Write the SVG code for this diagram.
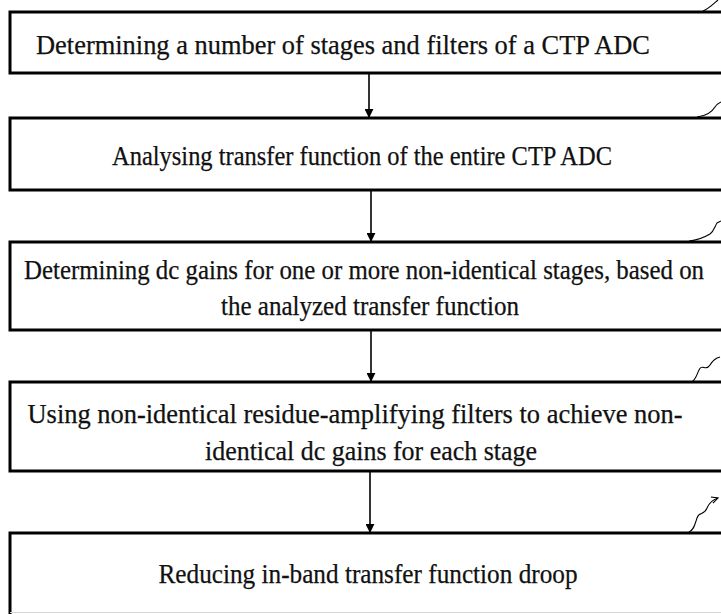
<svg xmlns="http://www.w3.org/2000/svg" width="721" height="614" viewBox="0 0 721 614">
  <style>
    .box { fill: #ffffff; stroke: #000000; stroke-width: 3; }
    .label { font-family: "Liberation Serif", "Times New Roman", serif; font-size: 27px; fill: #111111; text-anchor: middle; stroke: #111111; stroke-width: 0.25; }
    .flow { stroke: #000000; stroke-width: 1.6; fill: none; }
    .leader { stroke: #000000; stroke-width: 1.1; fill: none; }
  </style>
  <defs>
    <marker id="head" viewBox="0 0 10 10" refX="9" refY="5" markerWidth="9" markerHeight="9" markerUnits="userSpaceOnUse" orient="auto">
      <path d="M0,0 L10,5 L0,10 Z" fill="#000000"/>
    </marker>
    <marker id="openHead" viewBox="0 0 10 10" refX="9" refY="5" markerWidth="8" markerHeight="8" markerUnits="userSpaceOnUse" orient="auto">
      <path d="M1,1 L9,5 L1,9" fill="none" stroke="#000000" stroke-width="1.4"/>
    </marker>
  </defs>

  <rect width="721" height="614" fill="#ffffff"/>

  <g id="step1">
    <rect class="box" x="10" y="12" width="714" height="61"/>
    <text class="label" x="343" y="54" textLength="614" lengthAdjust="spacingAndGlyphs">Determining a number of stages and filters of a CTP ADC</text>
  </g>

  <g id="step2">
    <rect class="box" x="10" y="118" width="714" height="72"/>
    <text class="label" x="362" y="165" textLength="500" lengthAdjust="spacingAndGlyphs">Analysing transfer function of the entire CTP ADC</text>
  </g>

  <g id="step3">
    <rect class="box" x="10" y="242" width="714" height="88"/>
    <text class="label" x="364" y="279" textLength="680" lengthAdjust="spacingAndGlyphs">Determining dc gains for one or more non-identical stages, based on</text>
    <text class="label" x="370" y="315" textLength="298" lengthAdjust="spacingAndGlyphs">the analyzed transfer function</text>
  </g>

  <g id="step4">
    <rect class="box" x="10" y="382" width="714" height="89"/>
    <text class="label" x="355" y="423" textLength="655" lengthAdjust="spacingAndGlyphs">Using non-identical residue-amplifying filters to achieve non-</text>
    <text class="label" x="371" y="460" textLength="332" lengthAdjust="spacingAndGlyphs">identical dc gains for each stage</text>
  </g>

  <g id="step5">
    <rect class="box" x="10" y="533" width="714" height="86"/>
    <line x1="10" y1="612.5" x2="721" y2="612.5" stroke="#d8d8d8" stroke-width="1"/>
    <text class="label" x="368" y="583" textLength="419" lengthAdjust="spacingAndGlyphs">Reducing in-band transfer function droop</text>
  </g>

  <g id="connectors">
    <line class="flow" x1="369" y1="74" x2="369" y2="117" marker-end="url(#head)"/>
    <line class="flow" x1="371" y1="191" x2="371" y2="241" marker-end="url(#head)"/>
    <line class="flow" x1="371" y1="331" x2="371" y2="381" marker-end="url(#head)"/>
    <line class="flow" x1="370" y1="472" x2="370" y2="532" marker-end="url(#head)"/>
  </g>

  <g id="reference-leaders">
    <path class="leader" d="M703,11 C710,8 714,3 718,0"/>
    <path class="leader" d="M697,117 C706,116 712,112 715,107 C717,104 719,103 721,102"/>
    <path class="leader" d="M689,241 C699,240 705,237 710,234 C714,231 715,226 717,223 L721,221"/>
    <path class="leader" d="M692,382 C696,379 697,374 699,370 C702,363 706,372 710,365 C713,360 716,358 720,357"/>
    <path class="leader" d="M689,532 C694,530 695,524 697,518 C699,511 704,516 707,508 C709,503 712,500 718,498" marker-end="url(#openHead)"/>
  </g>
</svg>
